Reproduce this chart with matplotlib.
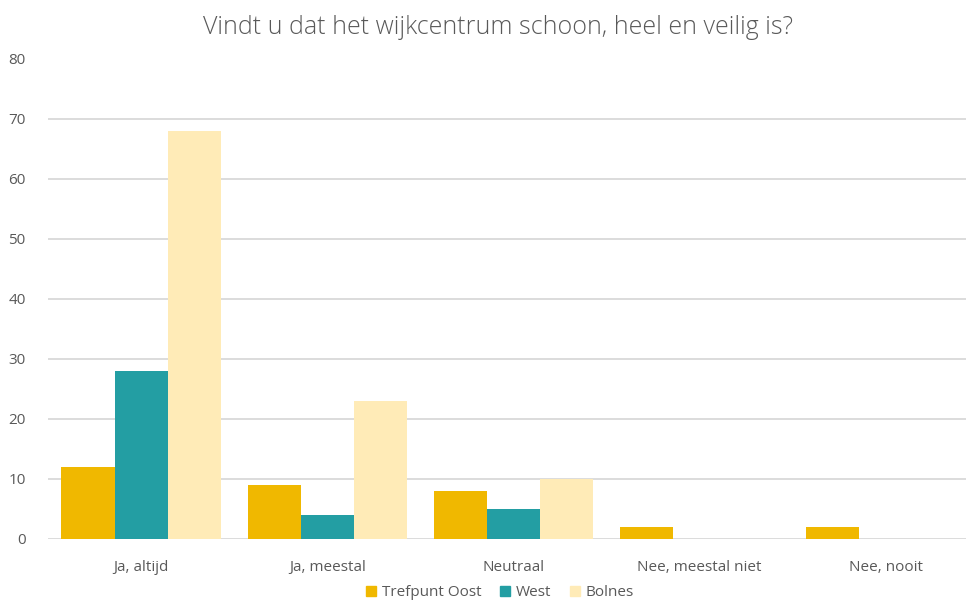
import matplotlib
matplotlib.use("Agg")
import matplotlib.pyplot as plt
import numpy as np

categories = ["Ja, altijd", "Ja, meestal", "Neutraal", "Nee, meestal niet", "Nee, nooit"]
series_names = ["Trefpunt Oost", "West", "Bolnes"]
trefpunt_oost = [12, 9, 8, 2, 2]
west = [28, 4, 5, 0, 0]
bolnes = [68, 23, 10, 0, 0]
y_ticks = [0, 10, 20, 30, 40, 50, 60, 70, 80]
title = "Vindt u dat het wijkcentrum schoon, heel en veilig is?"

colors = ["#F0B800", "#239EA3", "#FFEBB7"]
text_color = "#595959"

plt.rcParams['font.family'] = ['Open Sans', 'DejaVu Sans']

W, H = 966, 603
fig = plt.figure(figsize=(W / 100, H / 100), dpi=100)
left, right, top, bottom = 48, 979, 58.5, 539
ax = fig.add_axes([left / W, 1 - bottom / H, (right - left) / W, (bottom - top) / H])

x = np.arange(len(categories))
bw = 0.285
for i, (vals, name) in enumerate(zip([trefpunt_oost, west, bolnes], series_names)):
    ax.bar(x + (i - 1) * bw, vals, width=bw, color=colors[i], label=name, zorder=3)

ax.set_xlim(-0.5, len(categories) - 0.5)
ax.set_ylim(0, 80)
ax.set_yticks(y_ticks)
ax.set_xticks(x)
ax.set_xticklabels(categories)
ax.grid(axis='y', color="#D9D9D9", linewidth=1.3, zorder=0)
for s in ax.spines.values():
    s.set_visible(False)
ax.tick_params(axis='both', length=0, colors=text_color, labelsize=11)
ax.tick_params(axis='y', pad=16)
ax.tick_params(axis='x', pad=15)

fig.text(498 / W, 1 - 27 / H, title, ha='center', va='center', fontsize=18,
         color=text_color, fontweight='light')

handles = [plt.Rectangle((0, 0), 1, 1, color=c) for c in colors]
fig.legend(handles, series_names, loc='center', bbox_to_anchor=(500 / W, 1 - 593 / H),
           ncol=3, frameon=False, fontsize=11, labelcolor=text_color,
           handlelength=0.65, handleheight=0.65, handletextpad=0.4, columnspacing=1.2,
           borderpad=0.1)

fig.savefig("out.png", dpi=100)
